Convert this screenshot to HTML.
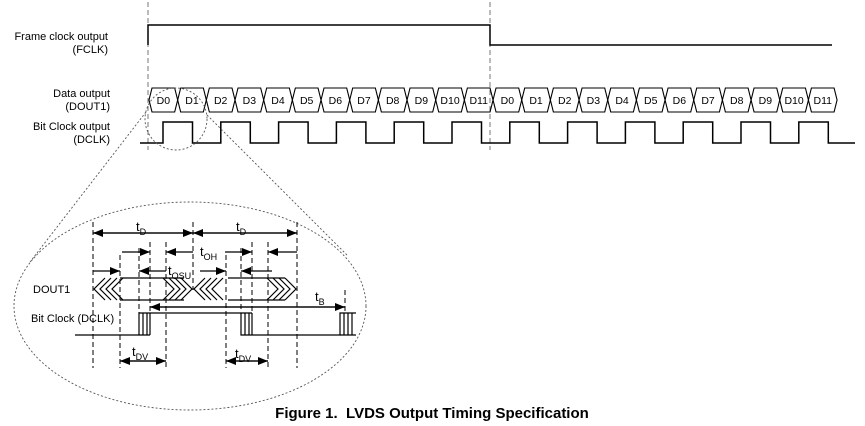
<!DOCTYPE html>
<html><head><meta charset="utf-8"><style>
html,body{margin:0;padding:0;background:#fff}
svg{display:block}
text{font-family:"Liberation Sans",Arial,sans-serif;fill:#000}
</style></head><body>
<svg id="s" width="865" height="426" viewBox="0 0 865 426" xmlns="http://www.w3.org/2000/svg">
<defs>
<marker id="a" markerWidth="10" markerHeight="8" refX="10" refY="4" orient="auto" markerUnits="userSpaceOnUse"><path d="M0,0L10,4L0,8z" fill="#000"/></marker>
</defs>
<g stroke="#000" fill="none" stroke-width="1.3">
<line x1="148" y1="2" x2="148" y2="150" stroke-dasharray="5,3" stroke="#777" stroke-width="1"/>
<line x1="490" y1="2" x2="490" y2="150" stroke-dasharray="5,3" stroke="#777" stroke-width="1"/>
<polyline points="148,45 148,25 490,25 490,45 832,45" stroke-width="1.5"/>
</g>
<text x="108" y="40" font-size="11" text-anchor="end">Frame clock output</text>
<text x="108" y="53" font-size="11" text-anchor="end">(FCLK)</text>
<text x="110" y="97" font-size="11" text-anchor="end">Data output</text>
<text x="110" y="110" font-size="11" text-anchor="end">(DOUT1)</text>
<text x="110" y="130" font-size="11" text-anchor="end">Bit Clock output</text>
<text x="110" y="143" font-size="11" text-anchor="end">(DCLK)</text>
<g id="cells"></g>
<g stroke="#000" fill="none" stroke-width="1.5"><polyline id="clk" points=""/></g>
<g stroke="#555" fill="none" stroke-width="0.9" stroke-dasharray="2,2">
<circle cx="176" cy="119" r="31"/>
<line x1="146" y1="112" x2="30" y2="262"/>
<line x1="207" y1="115" x2="348" y2="256"/>
<ellipse cx="190" cy="306" rx="176" ry="104"/>
</g>
<g stroke="#000" stroke-width="1" stroke-dasharray="5,3" fill="none">
<line x1="93" y1="222" x2="93" y2="368"/>
<line x1="120" y1="255" x2="120" y2="368"/>
<line x1="139" y1="248" x2="139" y2="335"/>
<line x1="150" y1="242" x2="150" y2="312"/>
<line x1="166" y1="242" x2="166" y2="368"/>
<line x1="193" y1="222" x2="193" y2="290"/>
<line x1="226" y1="255" x2="226" y2="368"/>
<line x1="241" y1="248" x2="241" y2="312"/>
<line x1="252" y1="242" x2="252" y2="312"/>
<line x1="268" y1="242" x2="268" y2="368"/>
<line x1="297" y1="222" x2="297" y2="368"/>
<line x1="345" y1="290" x2="345" y2="312"/>
</g>
<g stroke="#000" stroke-width="1.2" fill="none">
<line x1="193" y1="233" x2="93" y2="233" marker-end="url(#a)"/>
<line x1="93" y1="233" x2="193" y2="233" marker-end="url(#a)"/>
<line x1="193" y1="233" x2="297" y2="233" marker-end="url(#a)"/>
<line x1="297" y1="233" x2="193" y2="233" marker-end="url(#a)"/>
<line x1="122" y1="252" x2="150" y2="252" marker-end="url(#a)"/>
<line x1="193" y1="252" x2="166" y2="252" marker-end="url(#a)"/>
<line x1="225" y1="252" x2="252" y2="252" marker-end="url(#a)"/>
<line x1="297" y1="252" x2="268" y2="252" marker-end="url(#a)"/>
<line x1="93" y1="271" x2="120" y2="271" marker-end="url(#a)"/>
<line x1="166" y1="271" x2="139" y2="271" marker-end="url(#a)"/>
<line x1="200" y1="271" x2="226" y2="271" marker-end="url(#a)"/>
<line x1="272" y1="271" x2="241" y2="271" marker-end="url(#a)"/>
<line x1="345" y1="307" x2="150" y2="307" marker-end="url(#a)"/>
<line x1="150" y1="307" x2="345" y2="307" marker-end="url(#a)"/>
<line x1="166" y1="361" x2="120" y2="361" marker-end="url(#a)"/>
<line x1="120" y1="361" x2="166" y2="361" marker-end="url(#a)"/>
<line x1="268" y1="361" x2="226" y2="361" marker-end="url(#a)"/>
<line x1="226" y1="361" x2="268" y2="361" marker-end="url(#a)"/>
<path d="M120,278 L184,278 M120,300 L184,300 M228,278 L285,278 M228,300 L285,300"/>
<path d="M105,278 L94,289 L105,300 M111,278 L100,289 L111,300 M117,278 L106,289 L117,300 M123,278 L112,289 L123,300"/>
<path d="M163,278 L174,289 L163,300 M169,278 L180,289 L169,300 M175,278 L186,289 L175,300 M181,278 L192,289 L181,300"/>
<path d="M205,278 L194,289 L205,300 M211,278 L200,289 L211,300 M217,278 L206,289 L217,300 M223,278 L212,289 L223,300"/>
<path d="M267,278 L278,289 L267,300 M273,278 L284,289 L273,300 M279,278 L290,289 L279,300 M285,278 L296,289 L285,300"/>
<path d="M75,335 L139,335 L139,313 L241,313 L241,335 L340,335 L340,313 L356,313"/>
<path d="M143,335 L143,313 M147,335 L147,313 M150,335 L150,313 M139,335 L150,335"/>
<path d="M245,313 L245,335 M249,313 L249,335 M252,313 L252,335 M241,313 L252,313"/>
<path d="M344,335 L344,313 M348,335 L348,313 M352,335 L352,313 M340,335 L356,335"/>
</g>
<text x="33" y="293" font-size="11">DOUT1</text>
<text x="31" y="322" font-size="11">Bit Clock (DCLK)</text>
<g font-size="13">
<text x="136" y="231">t<tspan font-size="9" dy="4">D</tspan></text>
<text x="236" y="231">t<tspan font-size="9" dy="4">D</tspan></text>
<text x="200" y="256">t<tspan font-size="9" dy="4">OH</tspan></text>
<text x="168" y="275">t<tspan font-size="9" dy="4">OSU</tspan></text>
<text x="315" y="301">t<tspan font-size="9" dy="4">B</tspan></text>
<text x="132" y="356">t<tspan font-size="9" dy="4">DV</tspan></text>
<text x="235" y="358">t<tspan font-size="9" dy="4">DV</tspan></text>
</g>
<text x="432" y="418" font-size="15" font-weight="bold" text-anchor="middle">Figure 1.&#160; LVDS Output Timing Specification</text>
</svg>
<script>
var g=document.getElementById('cells'),ns='http://www.w3.org/2000/svg',x0=149,w=28.67;
for(var i=0;i<24;i++){var a=x0+i*w,b=a+w,t=88,bt=112,m=100,e=3;
var p=document.createElementNS(ns,'path');
p.setAttribute('d','M'+(a+e)+','+t+' L'+(b-e)+','+t+' L'+b+','+m+' L'+(b-e)+','+bt+' L'+(a+e)+','+bt+' L'+a+','+m+'Z');
p.setAttribute('fill','none');p.setAttribute('stroke','#000');p.setAttribute('stroke-width','1.1');g.appendChild(p);
var tx=document.createElementNS(ns,'text');tx.setAttribute('x',a+w/2);tx.setAttribute('y',104);tx.setAttribute('font-size','10.5');tx.setAttribute('text-anchor','middle');tx.textContent='D'+(i%12);g.appendChild(tx);}
var pts='140,143';for(var k=0;k<12;k++){var r=163+k*57.8,f=r+29.5;pts+=' '+r+',143 '+r+',122 '+f+',122 '+f+',143';}
pts+=' 855,143';document.getElementById('clk').setAttribute('points',pts);
</script>
</body></html>
